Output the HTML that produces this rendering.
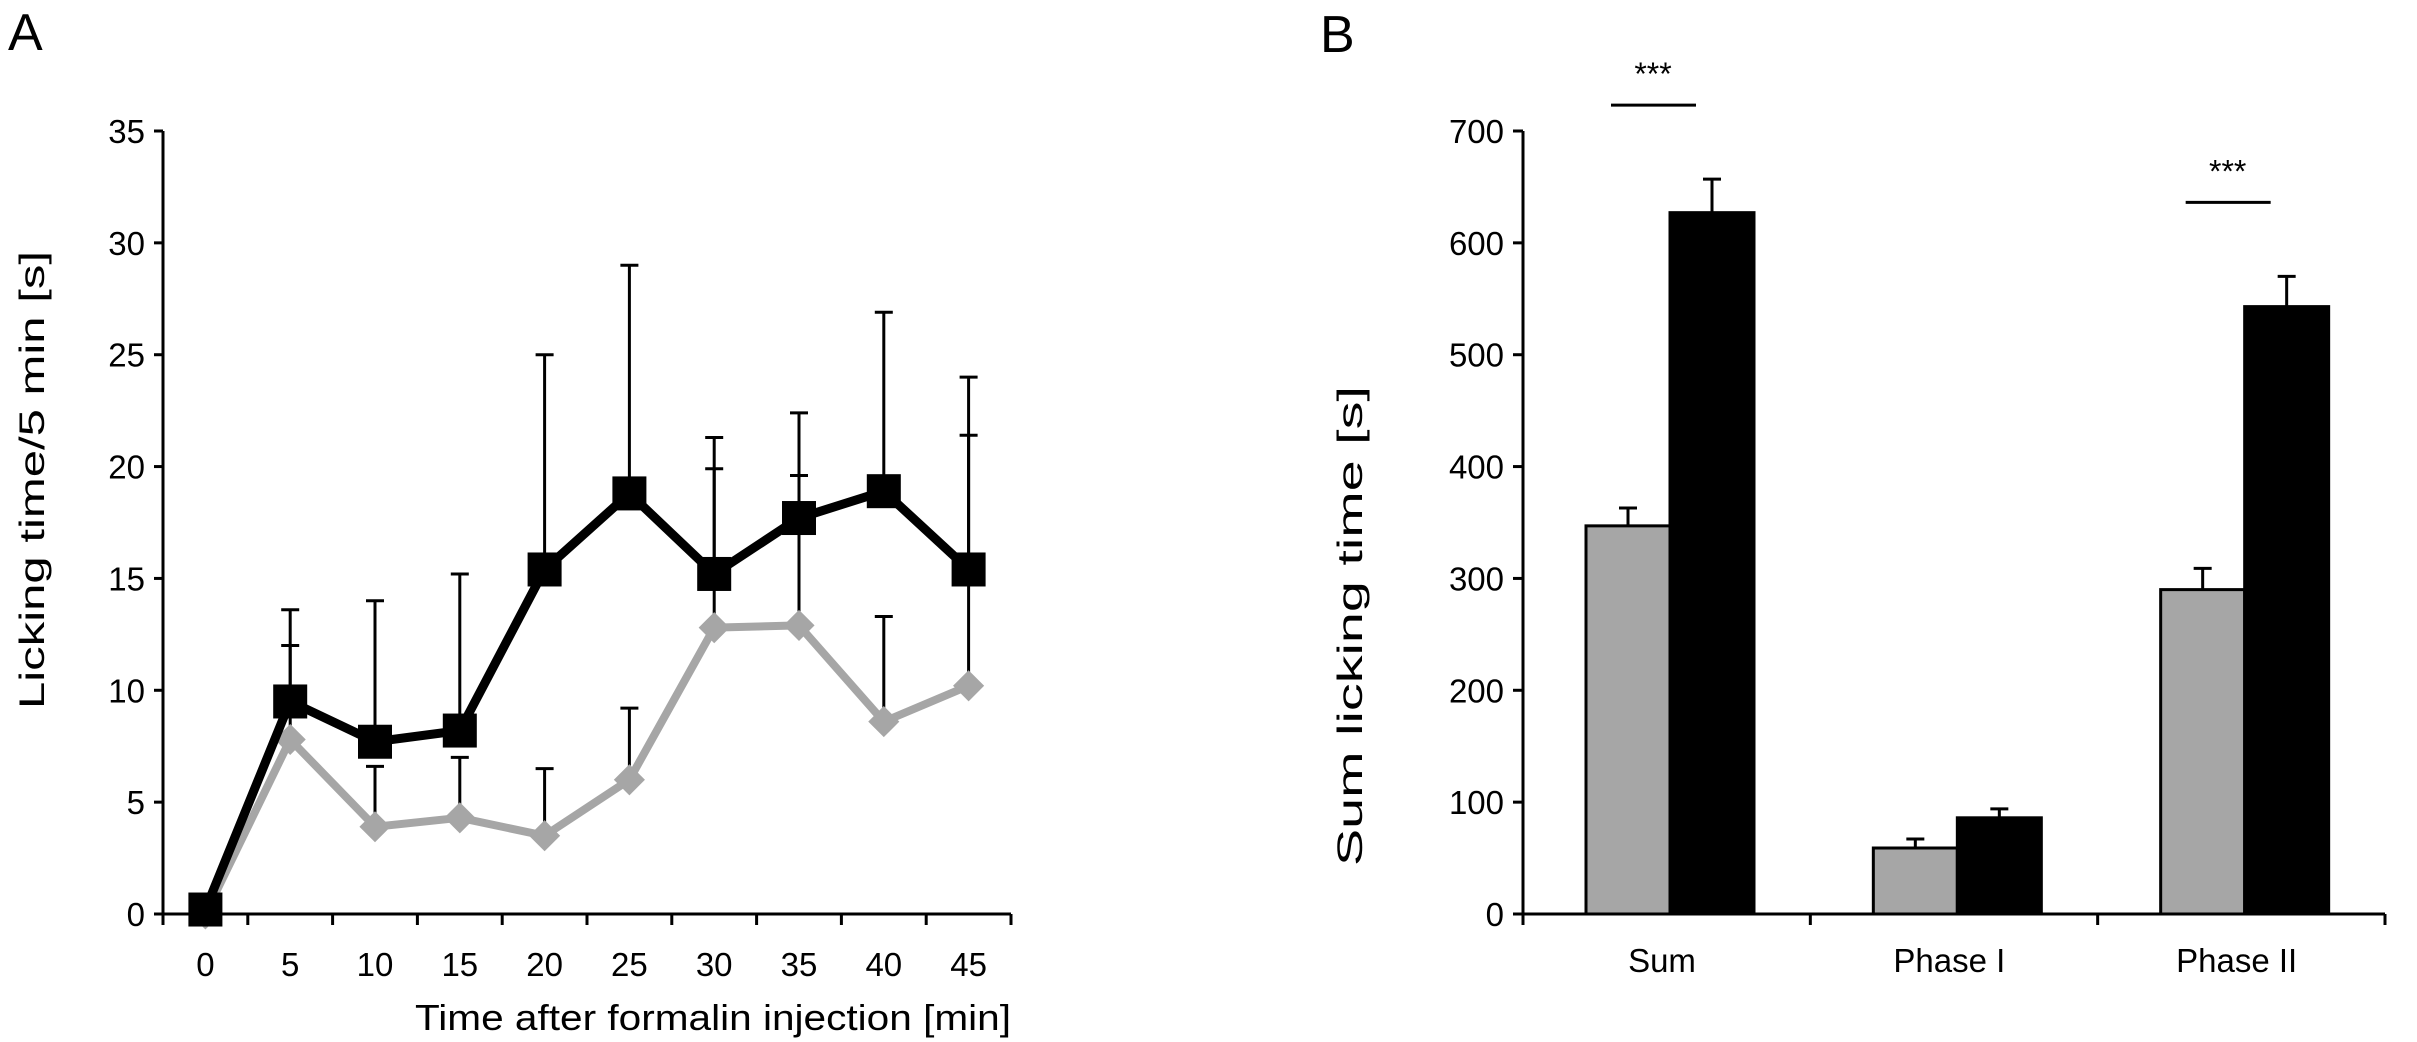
<!DOCTYPE html>
<html><head><meta charset="utf-8"><style>
body{margin:0;background:#fff}
svg{display:block}
text{font-family:"Liberation Sans",sans-serif;fill:#000}
</style></head><body>
<svg id="fig" width="2417" height="1042" viewBox="0 0 2417 1042">
<text x="8" y="50" font-size="52">A</text>
<text x="1320" y="52" font-size="52">B</text>
<g id="A"></g>
<g id="B"></g>
</svg>
<script>
const aCats=[0,5,10,15,20,25,30,35,40,45];
const aBlack=[0.2,9.5,7.7,8.2,15.4,18.8,15.2,17.7,18.9,15.4];
const aBlackErr=[null,13.6,14.0,15.2,25.0,29.0,21.3,22.4,26.9,24.0];
const aGray=[0,7.8,3.9,4.3,3.5,6.0,12.8,12.9,8.6,10.2];
const aGrayErr=[null,12.0,6.6,7.0,6.5,9.2,19.9,19.6,13.3,21.4];
const aTicks=[0,5,10,15,20,25,30,35];
const bCats=["Sum","Phase I","Phase II"];
const bGray=[347,59,290];
const bGrayErr=[363,67,309];
const bBlack=[627,86,543];
const bBlackErr=[657,94,570];
const bTicks=[0,100,200,300,400,500,600,700];
const bSig=[0,2];

const NS="http://www.w3.org/2000/svg";
function mk(p,t,a,txt){const e=document.createElementNS(NS,t);for(const k in a)e.setAttribute(k,a[k]);if(txt!=null)e.textContent=txt;p.appendChild(e);return e;}

// Panel A
const A=document.getElementById('A');
const ax0=163,ax1=1011,ay0=914,ay1=131;
const cw=(ax1-ax0)/aCats.length;
const xA=i=>ax0+cw*(i+0.5);
const yA=v=>ay0-(v/35)*(ay0-ay1);
let e;
e=mk(A,'line',{x1:ax0,y1:ay1,x2:ax0,y2:ay0,stroke:'#000','stroke-width':3});

e=mk(A,'line',{x1:ax0,y1:ay0,x2:ax1,y2:ay0,stroke:'#000','stroke-width':3});

aTicks.forEach(t=>{
  mk(A,'line',{x1:ax0-9,y1:yA(t),x2:ax0,y2:yA(t),stroke:'#000','stroke-width':3});
  e=mk(A,'text',{x:ax0-18,y:yA(t)+12,'font-size':33,'text-anchor':'end'},t);
  
});
for(let i=0;i<=aCats.length;i++)mk(A,'line',{x1:ax0+cw*i,y1:ay0,x2:ax0+cw*i,y2:ay0+11,stroke:'#000','stroke-width':3});
aCats.forEach((c,i)=>{
  e=mk(A,'text',{x:xA(i),y:976,'font-size':33,'text-anchor':'middle'},c);
  
});
e=mk(A,'text',{x:ax1-596,y:1030,'font-size':36,textLength:596,lengthAdjust:'spacingAndGlyphs'},'Time after formalin injection [min]');

e=mk(A,'text',{x:-229,y:0,'font-size':35,textLength:458,lengthAdjust:'spacingAndGlyphs',transform:'translate(44,480) rotate(-90)'},'Licking time/5 min [s]');

function errs(vals,errv,nm){vals.forEach((v,i)=>{if(errv[i]==null)return;
  e=mk(A,'path',{d:`M${xA(i)},${yA(v)}V${yA(errv[i])}M${xA(i)-9},${yA(errv[i])}H${xA(i)+9}`,stroke:'#000','stroke-width':3,fill:'none'});
  });}
errs(aGray,aGrayErr,'gray-error-bar');
errs(aBlack,aBlackErr,'black-error-bar');
e=mk(A,'polyline',{points:aGray.map((v,i)=>xA(i)+','+yA(v)).join(' '),stroke:'#a6a6a6','stroke-width':8,fill:'none','stroke-linejoin':'round'});

aGray.forEach((v,i)=>{e=mk(A,'rect',{x:xA(i)-11,y:yA(v)-11,width:22,height:22,fill:'#a6a6a6',transform:`rotate(45 ${xA(i)} ${yA(v)})`});
  });
e=mk(A,'polyline',{points:aBlack.map((v,i)=>xA(i)+','+yA(v)).join(' '),stroke:'#000','stroke-width':9,fill:'none','stroke-linejoin':'miter'});

aBlack.forEach((v,i)=>{e=mk(A,'rect',{x:xA(i)-17,y:yA(v)-17,width:34,height:34,fill:'#000'});
  });

// Panel B
const B=document.getElementById('B');
const bx0=1523,bx1=2385,by0=914,by1=131;
const bw=(bx1-bx0)/bCats.length;
const yB=v=>by0-(v/700)*(by0-by1);
const barW=84,off=63;
e=mk(B,'line',{x1:bx0,y1:by1,x2:bx0,y2:by0,stroke:'#000','stroke-width':3});

bTicks.forEach(t=>{
  mk(B,'line',{x1:bx0-10,y1:yB(t),x2:bx0,y2:yB(t),stroke:'#000','stroke-width':3});
  e=mk(B,'text',{x:bx0-19,y:yB(t)+12,'font-size':33,'text-anchor':'end'},t);
  
});
for(let i=0;i<=bCats.length;i++)mk(B,'line',{x1:bx0+bw*i,y1:by0,x2:bx0+bw*i,y2:by0+11,stroke:'#000','stroke-width':3});
bCats.forEach((c,i)=>{
  const gx=bx0+bw*i+off;
  e=mk(B,'path',{d:`M${gx+barW/2},${yB(bGray[i])}V${yB(bGrayErr[i])}M${gx+barW/2-9},${yB(bGrayErr[i])}H${gx+barW/2+9}`,stroke:'#000','stroke-width':3});
  
  e=mk(B,'path',{d:`M${gx+barW*1.5},${yB(bBlack[i])}V${yB(bBlackErr[i])}M${gx+barW*1.5-9},${yB(bBlackErr[i])}H${gx+barW*1.5+9}`,stroke:'#000','stroke-width':3});
  
  e=mk(B,'rect',{x:gx,y:yB(bGray[i]),width:barW,height:by0-yB(bGray[i]),fill:'#a6a6a6',stroke:'#000','stroke-width':3});
  
  e=mk(B,'rect',{x:gx+barW,y:yB(bBlack[i]),width:barW,height:by0-yB(bBlack[i]),fill:'#000',stroke:'#000','stroke-width':3});
  
  e=mk(B,'text',{x:gx+barW-8,y:972,'font-size':33,'text-anchor':'middle'},c);
  
});
bSig.forEach(i=>{
  const gx=bx0+bw*i+off;
  const ly=yB(bBlackErr[i])-74;
  e=mk(B,'line',{x1:gx+25,y1:ly,x2:gx+110,y2:ly,stroke:'#000','stroke-width':3});
  
  e=mk(B,'text',{x:gx+67,y:ly-20,'font-size':32,'text-anchor':'middle'},'***');
  
});
e=mk(B,'line',{x1:bx0,y1:by0,x2:bx1,y2:by0,stroke:'#000','stroke-width':3});

e=mk(B,'text',{x:-240,y:0,'font-size':35,textLength:480,lengthAdjust:'spacingAndGlyphs',transform:'translate(1362,626) rotate(-90)'},'Sum licking time [s]');

</script>
</body></html>
